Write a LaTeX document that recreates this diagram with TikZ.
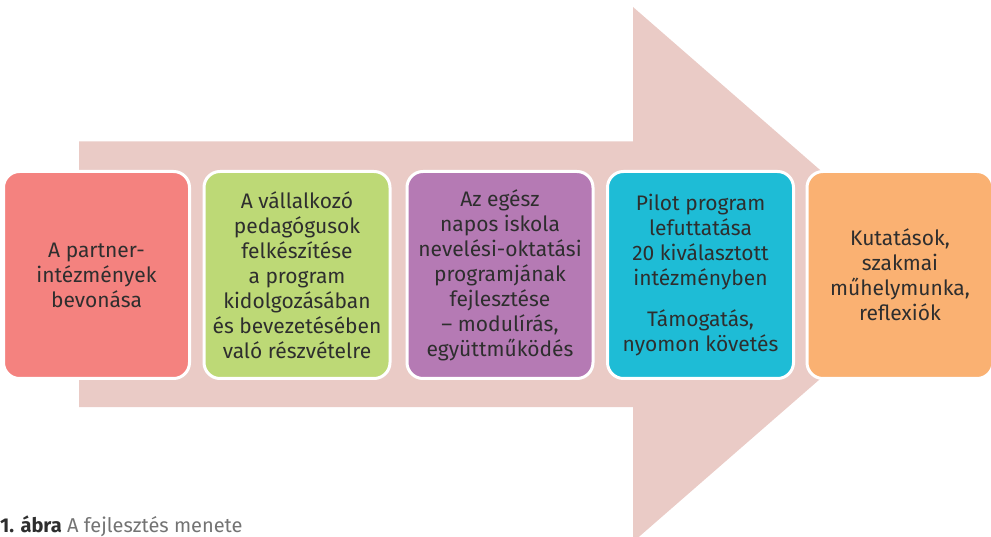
\documentclass[tikz,border=0pt]{standalone}
\usepackage{fontspec}
\setmainfont{Fira Sans}
\definecolor{arrowc}{HTML}{EACBC6}
\definecolor{redc}{HTML}{F4827F}
\definecolor{greenc}{HTML}{BDD976}
\definecolor{purplec}{HTML}{B57AB4}
\definecolor{cyanc}{HTML}{1EBCD6}
\definecolor{orangec}{HTML}{FAB172}
\definecolor{txt}{HTML}{2E2E2E}
\begin{document}
\begin{tikzpicture}[x=1pt,y=-1pt,
  stage/.style={draw=white, line width=3pt, rounded corners=16pt,
    minimum width=186pt, minimum height=207pt, inner sep=0pt,
    align=center, text=txt,
    font=\fontsize{21}{25}\selectfont},
]
\useasboundingbox (0,0) rectangle (991,537);
\begin{scope}
\clip (0,0) rectangle (991,537);
\fill[arrowc] (79,141.5) -- (633,141.5) -- (633,7) -- (940,274.5) -- (633,542) -- (633,407) -- (79,407) -- cycle;
\end{scope}
\node[stage, fill=redc] (s1) at (96.5,275) {A partner-\\intézmények\\bevonása};
\node[stage, fill=greenc] (s2) at (297,275) {A vállalkozó\\pedagógusok\\felkészítése\\a program\\kidolgozásában\\és bevezetésében\\való részvételre};
\node[stage, fill=purplec] (s3) at (500,275) {Az egész\\napos iskola\\nevelési-oktatási\\programjának\\fejlesztése\\– modulírás,\\együttműködés};
\node[stage, fill=cyanc] (s4) at (700.5,275) {Pilot program\\lefuttatása\\20 kiválasztott\\intézményben\\[16pt]Támogatás,\\nyomon követés};
\node[stage, fill=orangec] (s5) at (900,275) {Kutatások,\\szakmai\\műhelymunka,\\reflexiók};
\node[anchor=base west, inner sep=0pt, text=txt, font=\fontsize{20}{22}\selectfont] (cap) at (0,532.5) {\textbf{1. ábra} \color{gray!90!black}A fejlesztés menete};
\end{tikzpicture}
\end{document}
